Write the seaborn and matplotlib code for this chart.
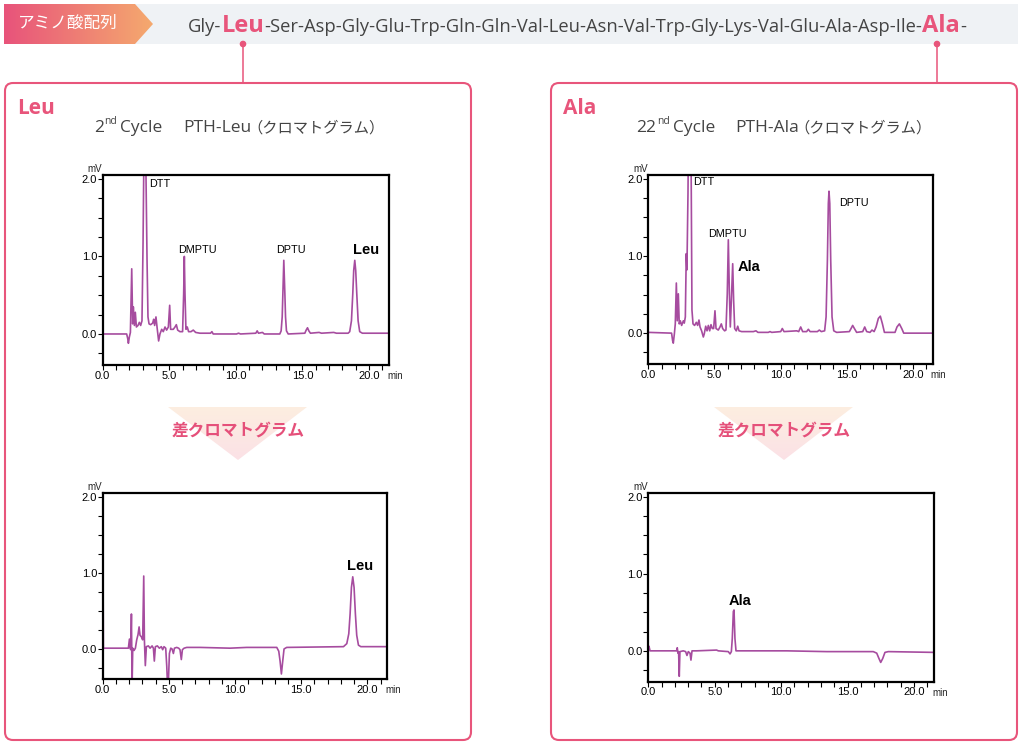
import numpy as np
import pandas as pd
import seaborn as sns
import matplotlib.pyplot as plt
from matplotlib.patches import Polygon, FancyBboxPatch, Rectangle, Circle
from matplotlib.colors import LinearSegmentedColormap
from matplotlib.ticker import MultipleLocator

# chromatogram traces, (time min, signal mV)
leu_raw = [(0.00, 0.00), (1.80, 0.00), (1.88, -0.06), (1.93, -0.12), (2.00, -0.04), (2.08, 0.02),
           (2.18, 0.84), (2.25, 0.13), (2.30, 0.35), (2.38, 0.11), (2.45, 0.28), (2.53, 0.09),
           (2.65, 0.11), (2.75, 0.15), (2.85, 0.11), (2.95, 0.17), (3.03, 1.17), (3.08, 2.06),
           (3.15, 3.50), (3.25, 2.06), (3.33, 0.95), (3.40, 0.22), (3.48, 0.13), (3.60, 0.12),
           (3.75, 0.14), (3.83, 0.19), (3.90, 0.11), (4.00, 0.22), (4.08, 0.09), (4.20, -0.09),
           (4.30, 0.00), (4.43, 0.06), (4.55, 0.03), (4.68, 0.09), (4.80, 0.05), (4.93, 0.09),
           (5.03, 0.37), (5.10, 0.06), (5.30, 0.06), (5.43, 0.09), (5.53, 0.12), (5.63, 0.05),
           (5.80, 0.03), (6.00, 0.03), (6.08, 0.52), (6.13, 1.00), (6.18, 0.52), (6.25, 0.06),
           (6.35, 0.09), (6.45, 0.03), (6.63, 0.03), (6.80, 0.05), (6.98, 0.02), (7.30, 0.01),
           (8.10, 0.01), (8.20, 0.03), (8.30, 0.00), (10.05, 0.00), (10.20, 0.01), (10.35, 0.00),
           (11.50, 0.01), (11.60, 0.04), (11.70, 0.01), (12.00, 0.02), (12.13, 0.00), (13.30, 0.00),
           (13.40, 0.04), (13.48, 0.22), (13.53, 0.52), (13.60, 0.95), (13.68, 0.52), (13.73, 0.22),
           (13.80, 0.04), (13.93, 0.00), (15.18, 0.01), (15.28, 0.05), (15.38, 0.08), (15.48, 0.04),
           (15.60, 0.01), (16.25, 0.02), (16.43, 0.01), (17.35, 0.02), (17.55, 0.01), (18.43, 0.01),
           (18.55, 0.03), (18.68, 0.17), (18.78, 0.52), (18.85, 0.82), (18.93, 0.95), (19.00, 0.82),
           (19.08, 0.52), (19.18, 0.17), (19.30, 0.03), (19.50, 0.01), (21.50, 0.01)]

leu_diff = [(0.00, 2.20), (0.05, 0.01), (1.94, 0.01), (2.02, 0.13), (2.07, 0.01), (2.12, -0.01),
            (2.17, 0.46), (2.22, -0.49), (2.27, 0.01), (2.37, -0.02), (2.47, 0.01), (2.57, 0.12),
            (2.67, 0.19), (2.75, 0.29), (2.82, 0.18), (2.92, 0.16), (3.02, 0.12), (3.10, 0.96),
            (3.15, 0.12), (3.22, -0.22), (3.30, 0.03), (3.45, 0.04), (3.58, 0.01), (3.73, 0.04),
            (3.83, 0.01), (3.90, -0.16), (3.98, 0.03), (4.13, 0.04), (4.28, 0.01), (4.43, 0.03),
            (4.53, -0.01), (4.63, 0.03), (4.76, 0.01), (4.84, -0.23), (4.89, -0.45), (4.96, -0.45),
            (5.04, -0.06), (5.14, 0.01), (5.24, 0.00), (5.34, -0.06), (5.42, 0.01), (5.59, 0.02),
            (5.74, 0.01), (5.84, -0.01), (5.94, -0.14), (6.02, -0.01), (6.15, 0.01), (6.35, 0.02),
            (7.36, 0.02), (9.62, 0.01), (10.88, 0.02), (13.15, 0.02), (13.30, -0.03), (13.40, -0.16),
            (13.50, -0.33), (13.60, -0.16), (13.70, 0.00), (13.90, 0.02), (18.19, 0.03), (18.44, 0.07),
            (18.59, 0.20), (18.69, 0.46), (18.79, 0.81), (18.89, 0.95), (18.99, 0.81), (19.09, 0.46),
            (19.19, 0.18), (19.32, 0.05), (19.50, 0.03), (21.50, 0.03)]

ala_raw = [(0.00, 0.01), (1.76, 0.00), (1.84, -0.10), (1.89, -0.13), (1.97, -0.01), (2.04, 0.12),
           (2.12, 0.65), (2.19, 0.16), (2.27, 0.51), (2.34, 0.12), (2.42, 0.16), (2.52, 0.10),
           (2.65, 0.16), (2.72, 0.13), (2.80, 0.21), (2.87, 1.03), (2.92, 0.82), (3.00, 1.81),
           (3.08, 3.50), (3.18, 3.50), (3.25, 1.81), (3.30, 0.30), (3.38, 0.12), (3.50, 0.10),
           (3.63, 0.14), (3.73, 0.10), (3.83, 0.17), (3.91, 0.08), (4.03, 0.03), (4.16, -0.05),
           (4.23, -0.01), (4.34, 0.09), (4.44, 0.03), (4.54, 0.10), (4.64, 0.03), (4.74, 0.11),
           (4.84, 0.06), (4.94, 0.06), (5.04, 0.29), (5.12, 0.06), (5.29, 0.04), (5.42, 0.08),
           (5.52, 0.12), (5.62, 0.06), (5.77, 0.03), (5.87, 0.04), (5.97, 0.51), (6.05, 1.21),
           (6.13, 0.51), (6.20, 0.08), (6.28, 0.43), (6.38, 0.90), (6.45, 0.43), (6.53, 0.06),
           (6.65, 0.03), (6.76, 0.09), (6.86, 0.03), (7.06, 0.02), (7.94, 0.02), (8.14, 0.03),
           (8.29, 0.01), (9.07, 0.01), (9.20, 0.02), (9.33, 0.01), (10.01, 0.02), (10.13, 0.06),
           (10.26, 0.02), (11.22, 0.03), (11.37, 0.02), (11.52, 0.08), (11.67, 0.02), (11.97, 0.02),
           (12.10, 0.05), (12.23, 0.02), (12.78, 0.02), (12.93, 0.04), (13.08, 0.02), (13.33, 0.03),
           (13.44, 0.21), (13.54, 0.95), (13.61, 1.68), (13.66, 1.84), (13.72, 1.68), (13.79, 0.95),
           (13.89, 0.21), (14.02, 0.03), (14.24, 0.01), (15.20, 0.02), (15.33, 0.06), (15.45, 0.10),
           (15.58, 0.06), (15.75, 0.01), (16.21, 0.02), (16.36, 0.08), (16.51, 0.02), (16.76, 0.01),
           (16.91, 0.04), (17.07, 0.02), (17.22, 0.08), (17.39, 0.19), (17.54, 0.22), (17.70, 0.12),
           (17.85, 0.01), (18.65, 0.01), (18.80, 0.08), (18.98, 0.12), (19.16, 0.06), (19.31, 0.00),
           (21.50, 0.00)]

ala_diff = [(0.00, 0.01), (0.05, 0.06), (0.13, 0.00), (2.13, 0.00), (2.18, 0.04), (2.23, -0.03),
            (2.28, -0.01), (2.33, -0.33), (2.38, -0.01), (2.63, 0.00), (2.81, -0.01), (2.91, -0.06),
            (3.01, -0.01), (3.14, -0.03), (3.21, -0.12), (3.29, 0.00), (3.64, 0.00), (5.14, 0.01),
            (5.27, 0.00), (6.02, -0.01), (6.15, -0.04), (6.25, -0.01), (6.32, 0.16), (6.40, 0.51),
            (6.45, 0.53), (6.52, 0.16), (6.60, 0.00), (6.90, 0.00), (10.41, 0.00), (13.42, -0.01),
            (16.93, -0.01), (17.19, -0.03), (17.36, -0.10), (17.49, -0.15), (17.64, -0.10),
            (17.81, -0.02), (18.06, -0.01), (21.50, -0.02)]

# peak labels: (text, time, mV, bold, align)
leu_raw_labels = [("DTT", 3.48, 1.93, False, "left"), ("DMPTU", 7.1, 1.08, False, "center"),
                  ("DPTU", 14.15, 1.08, False, "center"), ("Leu", 19.75, 1.08, True, "center")]
ala_raw_labels = [("DTT", 3.4, 1.96, False, "left"), ("DMPTU", 5.97, 1.29, False, "center"),
                  ("Ala", 7.61, 0.86, True, "center"), ("DPTU", 15.53, 1.69, False, "center")]
leu_diff_labels = [("Leu", 19.42, 1.09, True, "center")]
ala_diff_labels = [("Ala", 6.90, 0.64, True, "center")]

sequence = ["Gly", "Leu", "Ser", "Asp", "Gly", "Glu", "Trp", "Gln", "Gln", "Val", "Leu",
            "Asn", "Val", "Trp", "Gly", "Lys", "Val", "Glu", "Ala", "Asp", "Ile", "Ala"]
highlight = [1, 21]

x_ticks = [0, 5, 10, 15, 20]
y_ticks = [0, 1, 2]

PINK = "#e8557b"
TRACE = "#a64c9f"
GREY_TXT = "#444444"

sns.set_theme(style="white")
plt.rcParams['font.family'] = ['Liberation Sans', 'DejaVu Sans']

W, H = 1021, 743
fig = plt.figure(figsize=(W / 100, H / 100), dpi=100)
bg = fig.add_axes([0, 0, 1, 1])
bg.set_xlim(0, W)
bg.set_ylim(H, 0)
bg.axis('off')
renderer = fig.canvas.get_renderer()


def text_width(s, **kw):
    t = bg.text(0, 0, s, **kw)
    w = t.get_window_extent(renderer=renderer).width
    t.remove()
    return w


def gradient_patch(verts, c_from, c_to, vertical=False):
    poly = Polygon(verts, closed=True, facecolor='none', edgecolor='none')
    bg.add_patch(poly)
    xs = [v[0] for v in verts]
    ys = [v[1] for v in verts]
    cmap = LinearSegmentedColormap.from_list('g', [c_from, c_to])
    grad = np.linspace(0, 1, 256)
    grad = grad.reshape(-1, 1) if vertical else grad.reshape(1, -1)
    im = bg.imshow(grad, cmap=cmap, extent=(min(xs), max(xs), max(ys), min(ys)),
                   origin='upper', aspect='auto', zorder=1)
    im.set_clip_path(poly)


# banner
bg.add_patch(Rectangle((4, 4), 1014, 40, facecolor="#eff2f5", edgecolor='none', zorder=0.5))
gradient_patch([(4, 4), (135, 4), (153, 24), (135, 44), (4, 44)], "#e8537b", "#f5aa6e")
bg.text(68, 23, "アミノ酸配列", color='white', fontsize=12, ha='center', va='center',
        family=['Noto Sans CJK JP'], zorder=3)

SEQ_FONT = ['Open Sans', 'DejaVu Sans']

# split the sequence into plain and highlighted runs
runs = []
buf = ""
for i, aa in enumerate(sequence):
    if i in highlight:
        if buf:
            runs.append((buf, False))
        runs.append((aa, True))
        buf = "-"
    else:
        buf += aa + "-"
if buf:
    runs.append((buf, False))

x = 188
for s, hl in runs:
    if hl:
        kw = dict(fontsize=17, color=PINK, fontweight='bold', family=SEQ_FONT)
    else:
        kw = dict(fontsize=13.2, color=GREY_TXT, family=SEQ_FONT)
    bg.text(x, 31.5, s, ha='left', va='baseline', zorder=3, **kw)
    x += text_width(s, **kw)

# panels
panels = [
    dict(x0=5, name="Leu", cyc="2", pth="PTH-Leu", link=243, t_x=(94, 118, 183)),
    dict(x0=551, name="Ala", cyc="22", pth="PTH-Ala", link=937, t_x=(636.5, 672.5, 735)),
]
LAT = dict(fontsize=12.5, color=GREY_TXT, family=['Open Sans'], ha='left', va='baseline', zorder=3)
JP = dict(fontsize=11, color=GREY_TXT, family=['Noto Sans CJK JP'], ha='left', va='baseline', zorder=3)
for p in panels:
    x0 = p['x0']
    bg.add_patch(FancyBboxPatch((x0, 83), 466, 657, boxstyle="round,pad=0,rounding_size=8",
                                facecolor='white', edgecolor=PINK, lw=1.5, zorder=1))
    bg.plot([p['link'], p['link']], [44, 83], color=PINK, lw=1.1, zorder=2)
    bg.add_patch(Circle((p['link'], 44), 2.6, color=PINK, zorder=3))
    bg.text(x0 + 12, 114, p['name'], color=PINK, fontsize=15, fontweight='bold',
            family=['Open Sans'], ha='left', va='baseline', zorder=3)
    tx = p['t_x']
    bg.text(tx[0], 132.5, p['cyc'], **LAT)
    nd_x = tx[0] + text_width(p['cyc'], **LAT) + 0.5
    nd_kw = dict(LAT, fontsize=7.5)
    bg.text(nd_x, 124, "nd", **nd_kw)
    cyc_x = max(tx[1], nd_x + text_width("nd", **nd_kw) + 3)
    bg.text(cyc_x, 132.5, "Cycle", **LAT)
    bg.text(tx[2], 132.5, p['pth'], **LAT)
    jx = tx[2] + text_width(p['pth'], **LAT) - 4
    bg.text(jx, 132.5, "（クロマトグラム）", **JP)
    # difference arrow
    cx = x0 + 233
    gradient_patch([(cx - 70, 407), (cx + 69, 407), (cx, 460)], "#fdeee0", "#fbe1e6", vertical=True)
    bg.text(cx, 431, "差クロマトグラム", color="#e5507a", fontsize=12, fontweight='bold',
            family=['Noto Sans CJK JP'], ha='center', va='center', zorder=3)


def chromatogram(box, trace, labels):
    left, top, right, bottom = box
    ax = fig.add_axes([left / W, 1 - bottom / H, (right - left) / W, (bottom - top) / H])
    df = pd.DataFrame(trace, columns=['time', 'mV'])
    sns.lineplot(data=df, x='time', y='mV', ax=ax, color=TRACE, lw=1.2,
                 estimator=None, sort=False)
    ax.set_xlim(0, 21.5)
    ax.set_ylim(-0.4, 2.05)
    ax.set_xticks(x_ticks)
    ax.set_xticklabels([f"{v:.1f}" for v in x_ticks])
    ax.set_yticks(y_ticks)
    ax.set_yticklabels([f"{v:.1f}" for v in y_ticks])
    ax.xaxis.set_minor_locator(MultipleLocator(1))
    ax.yaxis.set_minor_locator(MultipleLocator(0.25))
    ax.tick_params(which='both', bottom=True, left=True, direction='out', length=3.5,
                   width=0.8, color='black', pad=0.5, labelsize=8, labelcolor='black')
    ax.set_xlabel('')
    ax.set_ylabel('')
    for sp in ax.spines.values():
        sp.set_color('black')
        sp.set_linewidth(1.6)
    for s, t, v, bold, ha in labels:
        ax.text(t, v, s, fontsize=10.5 if bold else 7.8, fontweight='bold' if bold else 'normal',
                ha=ha, va='center', color='black')
    bg.text(left - 8, top - 6, "mV", fontsize=7, ha='center', va='center')
    bg.text(right + 6, bottom + 11, "min", fontsize=7, ha='center', va='center')
    return ax


chromatogram((102.7, 175, 389, 365), leu_raw, leu_raw_labels)
chromatogram((102.7, 493.3, 387.3, 679.3), leu_diff, leu_diff_labels)
chromatogram((648.3, 175, 932.7, 364), ala_raw, ala_raw_labels)
chromatogram((648.3, 492.7, 934, 681.7), ala_diff, ala_diff_labels)

fig.savefig('out.png', dpi=100)
